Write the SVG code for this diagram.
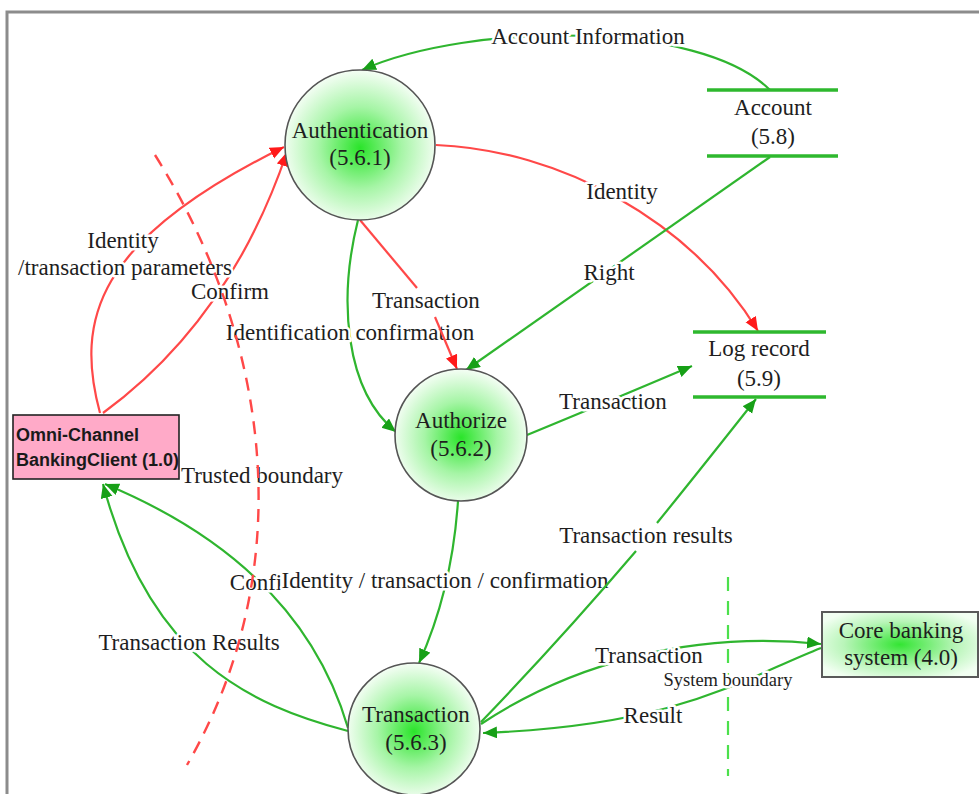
<svg xmlns="http://www.w3.org/2000/svg" width="979" height="794" viewBox="0 0 979 794">
  <style>
    .lbl { font-family: "Liberation Serif", "Times New Roman", serif; font-size: 23px; fill: #1e1e1e; text-anchor: middle; }
    .small { font-size: 18.5px; }
    .halo { stroke: #ffffff; stroke-width: 5px; paint-order: stroke; stroke-linejoin: round; }
    .g { fill: none; stroke: #2fb52f; stroke-width: 2.2; }
    .r { fill: none; stroke: #ff4848; stroke-width: 2.2; }
    .ga { marker-end: url(#arrowGreen); }
    .ra { marker-end: url(#arrowRed); }
    .proc { fill: url(#ballFill); stroke: #555555; stroke-width: 1.6; }
    .store { stroke: #2eb82e; stroke-width: 3.5; }
    .ext { font-family: "Liberation Sans", Arial, sans-serif; font-size: 18px; font-weight: bold; fill: #1a1a1a; }
  </style>
  <defs>
    <radialGradient id="ballFill" cx="50%" cy="52%" r="55%">
      <stop offset="0" stop-color="#2ae42a"/>
      <stop offset="0.5" stop-color="#a6f5a6"/>
      <stop offset="1" stop-color="#ffffff"/>
    </radialGradient>
    <radialGradient id="boxFill" cx="50%" cy="50%" r="60%">
      <stop offset="0" stop-color="#33e533"/>
      <stop offset="0.6" stop-color="#b9f5b9"/>
      <stop offset="1" stop-color="#f2fff2"/>
    </radialGradient>
    <marker id="arrowGreen" markerUnits="userSpaceOnUse" markerWidth="16" markerHeight="14" refX="14" refY="6" orient="auto">
      <path d="M0,0 L14,6 L0,12 z" fill="#17a017"/>
    </marker>
    <marker id="arrowRed" markerUnits="userSpaceOnUse" markerWidth="16" markerHeight="14" refX="14" refY="6" orient="auto">
      <path d="M0,0 L14,6 L0,12 z" fill="#ff1a1a"/>
    </marker>
  </defs>

  <rect width="979" height="794" fill="#ffffff"/>
  <!-- frame -->
  <path d="M7,794 V12 H979" fill="none" stroke="#8c8c8c" stroke-width="3"/>

  <g id="connectors">
    <path class="g ga" d="M770,90 C700,20 470,22 362,70"/>
    <path class="r ra" d="M100,413 C75,320 95,240 284,147"/>
    <path class="r ra" d="M103,413 Q230,320 287,152"/>
    <path class="r ra" d="M436,145 C560,150 690,220 758,331"/>
    <path class="g ga" d="M770,157 L466,370"/>
    <path class="g ga" d="M358,220 C338,300 345,390 396,432"/>
    <path class="g ga" d="M527,435 Q600,405 692,366"/>
    <path class="g ga" d="M458,501 Q452,590 419,663"/>
    <path class="g ga" d="M348,728 Q300,565 105,484"/>
    <path class="g ga" d="M348,731 C250,705 150,660 103,484"/>
    <path class="g ga" d="M481,724 C570,665 690,630 821,644"/>
    <path class="g ga" d="M821,648 C740,680 680,725 483,733"/>
    <path d="M728,577 V776" fill="none" stroke="#4ce04c" stroke-width="2.2" stroke-dasharray="14,10"/>
  </g>

  <g id="flow-labels">
    <text class="lbl halo" x="588" y="44">Account Information</text>
    <text class="lbl halo" x="123" y="248">Identity</text>
    <text class="lbl halo" x="125" y="275">/transaction parameters</text>
    <text class="lbl halo" x="230" y="299">Confirm</text>
    <text class="lbl halo" x="622" y="199">Identity</text>
    <text class="lbl halo" x="609" y="280">Right</text>
    <text class="lbl halo" x="350" y="340">Identification confirmation</text>
    <text class="lbl halo" x="426" y="308">Transaction</text>
    <text class="lbl halo" x="613" y="409">Transaction</text>
    <text class="lbl halo" x="646" y="543">Transaction results</text>
    <text class="lbl halo" x="262" y="483">Trusted boundary</text>
    <text class="lbl halo" x="256" y="590">Confi</text>
    <text class="lbl halo" x="445" y="588">Identity / transaction / confirmation</text>
    <text class="lbl halo" x="189" y="650">Transaction Results</text>
    <text class="lbl halo" x="649" y="663">Transaction</text>
    <text class="lbl small halo" x="728" y="686">System boundary</text>
    <text class="lbl halo" x="653" y="723">Result</text>
  </g>

  <g id="connectors-front">
    <path class="r" d="M360,220 L417,288"/>
    <path class="r ra" d="M435,317 L457,369"/>
    <path class="g" d="M481,722 Q560,640 636,551"/>
    <path class="g ga" d="M657,523 Q700,470 756,399"/>
  </g>

  <!-- trust boundary -->
  <path id="trusted-boundary" d="M155,155 C265,330 305,560 187,765" fill="none" stroke="#ff4848" stroke-width="2.4" stroke-dasharray="13,9"/>

  <g id="authentication">
    <circle class="proc" cx="360" cy="145" r="75"/>
    <text class="lbl" x="360" y="138">Authentication</text>
    <text class="lbl" x="360" y="165">(5.6.1)</text>
  </g>

  <g id="authorize">
    <circle class="proc" cx="461" cy="435" r="66"/>
    <text class="lbl" x="461" y="428">Authorize</text>
    <text class="lbl" x="461" y="456">(5.6.2)</text>
  </g>

  <g id="transaction">
    <circle class="proc" cx="414" cy="729" r="66"/>
    <text class="lbl" x="416" y="722">Transaction</text>
    <text class="lbl" x="416" y="750">(5.6.3)</text>
  </g>

  <g id="account-store">
    <line class="store" x1="707" y1="90" x2="838" y2="90"/>
    <line class="store" x1="707" y1="156" x2="838" y2="156"/>
    <text class="lbl" x="773" y="115">Account</text>
    <text class="lbl" x="773" y="144">(5.8)</text>
  </g>

  <g id="log-store">
    <line class="store" x1="693" y1="332" x2="826" y2="332"/>
    <line class="store" x1="693" y1="397" x2="826" y2="397"/>
    <text class="lbl" x="759" y="356">Log record</text>
    <text class="lbl" x="759" y="386">(5.9)</text>
  </g>

  <g id="omni-channel-client">
    <rect x="13" y="415" width="166" height="64" fill="#ffaac8" stroke="#222222" stroke-width="1.6"/>
    <text class="ext" x="16" y="441">Omni-Channel</text>
    <text class="ext" x="16" y="466">BankingClient (1.0)</text>
  </g>

  <g id="core-banking">
    <rect x="822" y="612" width="156" height="65" fill="url(#boxFill)" stroke="#5a5a5a" stroke-width="2"/>
    <text class="lbl" x="901" y="638">Core banking</text>
    <text class="lbl" x="901" y="665">system (4.0)</text>
  </g>
</svg>
